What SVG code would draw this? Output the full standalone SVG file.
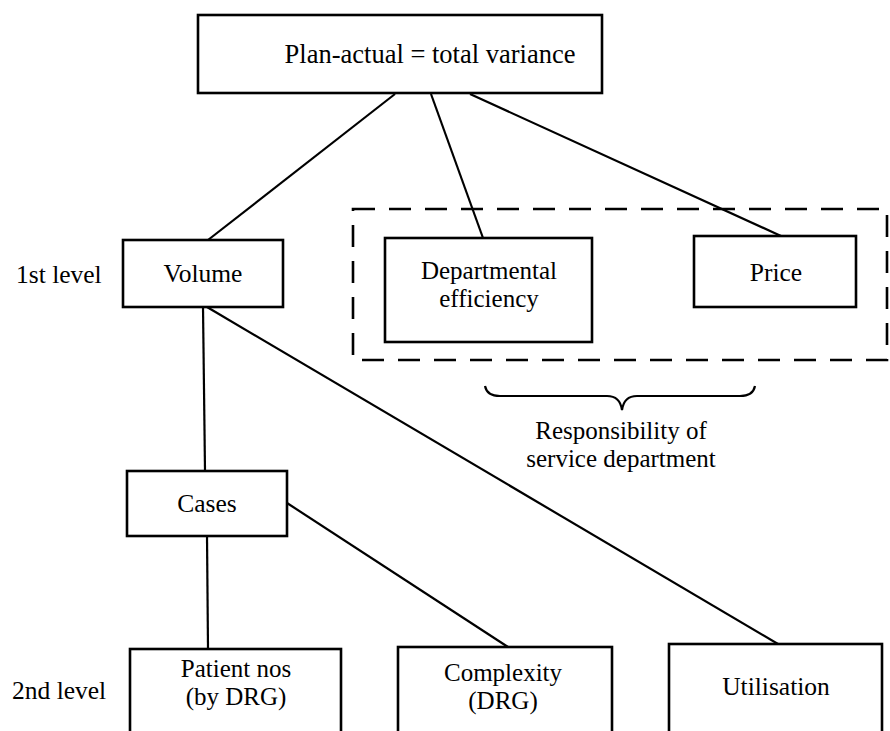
<svg xmlns="http://www.w3.org/2000/svg" width="890" height="731" viewBox="0 0 890 731">
  <style>
    .box { fill: #fff; stroke: #000; stroke-width: 2.6; }
    .link { stroke: #000; stroke-width: 2.2; fill: none; }
    .group { fill: none; stroke: #000; stroke-width: 2.6; stroke-dasharray: 22 14; }
    .brace { fill: none; stroke: #000; stroke-width: 2.2; }
    text { font-family: "Liberation Serif", "Times New Roman", serif; font-size: 25.5px; fill: #000; }
    .c { text-anchor: middle; }
    .two { font-size: 25px; }
  </style>
  <rect width="890" height="731" fill="#fff"/>

  <!-- connectors -->
  <g id="connectors">
    <line class="link" x1="395" y1="94" x2="208" y2="240"/>
    <line class="link" x1="431" y1="94" x2="483" y2="238"/>
    <line class="link" x1="470" y1="94" x2="781" y2="236"/>
    <line class="link" x1="203" y1="307" x2="205" y2="471"/>
    <line class="link" x1="207" y1="307" x2="778" y2="644"/>
    <line class="link" x1="207" y1="536" x2="208" y2="649"/>
    <line class="link" x1="287" y1="503" x2="508" y2="647"/>
  </g>

  <!-- service department grouping -->
  <g id="service-group">
    <rect class="group" x="353" y="209" width="534" height="151"/>
    <path class="brace" d="M485,386 Q487,396 500,396 L607,396 Q620,396 622,410 Q624,396 637,396 L740,396 Q753,396 755,386"/>
    <text class="c two" x="621" y="439">Responsibility of</text>
    <text class="c two" x="621" y="467">service department</text>
  </g>

  <!-- level labels -->
  <text x="16" y="283">1st level</text>
  <text x="12" y="699">2nd level</text>

  <g id="total">
    <rect class="box" x="198" y="15" width="404" height="78"/>
    <text class="c" x="430" y="63" style="font-size:26.5px">Plan-actual = total variance</text>
  </g>

  <g id="volume">
    <rect class="box" x="123" y="240" width="160" height="67"/>
    <text class="c" x="203" y="282">Volume</text>
  </g>

  <g id="efficiency">
    <rect class="box" x="385" y="238" width="207" height="104"/>
    <text class="c two" x="489" y="279">Departmental</text>
    <text class="c two" x="489" y="307">efficiency</text>
  </g>

  <g id="price">
    <rect class="box" x="694" y="236" width="162" height="71"/>
    <text class="c" x="776" y="281">Price</text>
  </g>

  <g id="cases">
    <rect class="box" x="127" y="471" width="160" height="65"/>
    <text class="c" x="207" y="512">Cases</text>
  </g>

  <g id="patient-nos">
    <rect class="box" x="130" y="649" width="211" height="100"/>
    <text class="c two" x="236" y="677">Patient nos</text>
    <text class="c two" x="236" y="705">(by DRG)</text>
  </g>

  <g id="complexity">
    <rect class="box" x="398" y="647" width="214" height="100"/>
    <text class="c two" x="503" y="681">Complexity</text>
    <text class="c two" x="503" y="709">(DRG)</text>
  </g>

  <g id="utilisation">
    <rect class="box" x="669" y="644" width="213" height="100"/>
    <text class="c" x="776" y="695">Utilisation</text>
  </g>
</svg>
